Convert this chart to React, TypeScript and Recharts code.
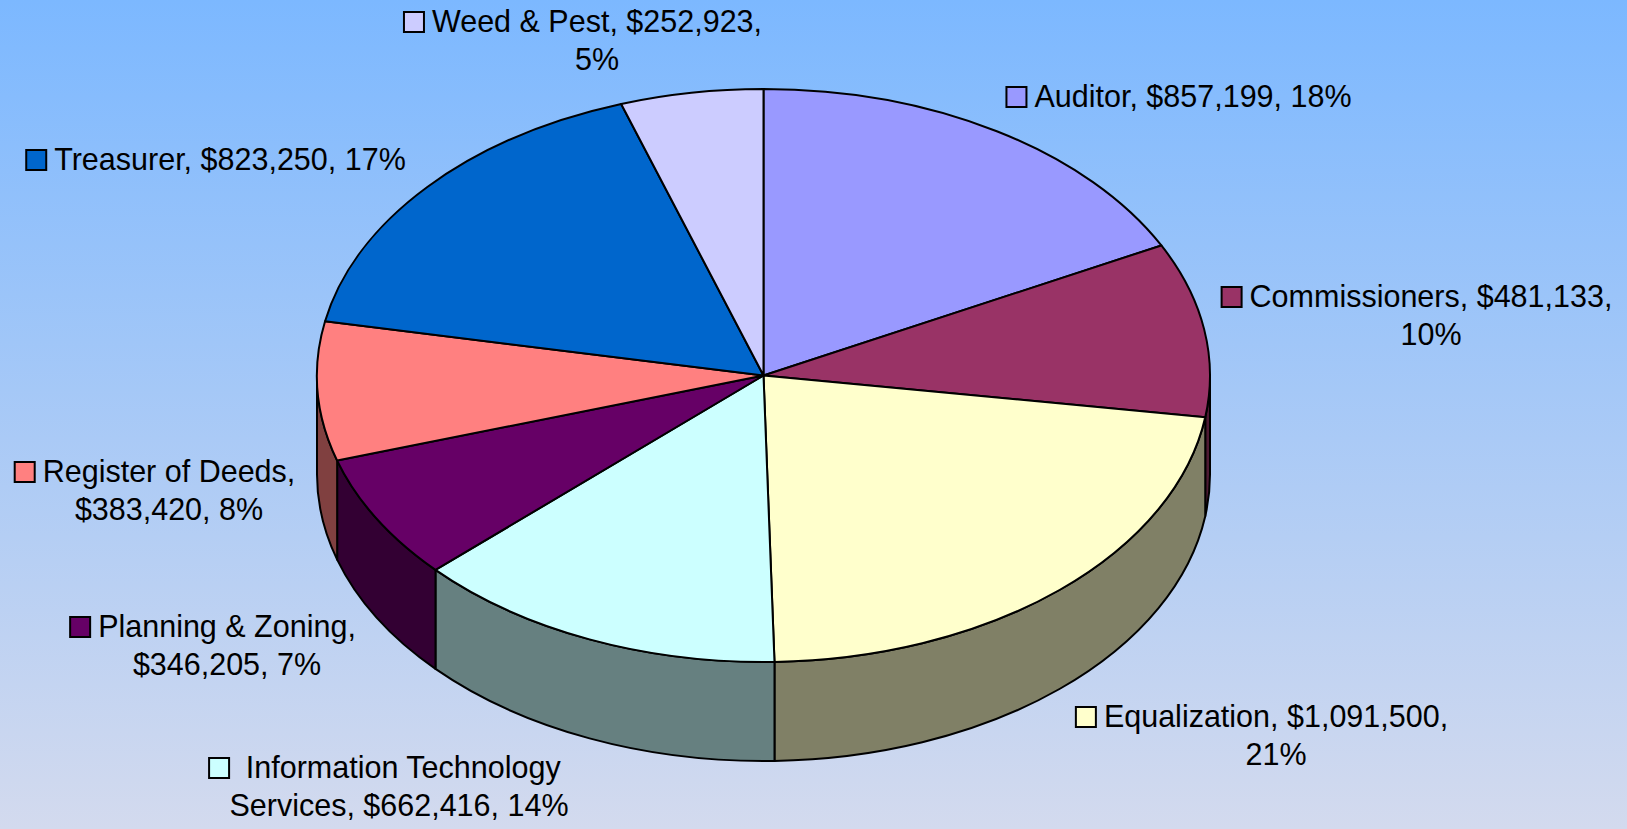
import React from 'react';
import { PieChart, Pie, Cell } from 'recharts';

const DEPARTMENTS = [
  'Auditor',
  'Commissioners',
  'Equalization',
  ' Information Technology Services',
  'Planning & Zoning',
  'Register of Deeds',
  'Treasurer',
  'Weed & Pest',
];
const BUDGETS = [857199, 481133, 1091500, 662416, 346205, 383420, 823250, 252923];
const PERCENTS = [18, 10, 21, 14, 7, 8, 17, 5];

const COLORS = ['#9999FF', '#993366', '#FFFFCC', '#CCFFFF', '#660066', '#FF8080', '#0066CC', '#CCCCFF'];

// where each label sits: text centre x, first baseline y, max chars per line
const LABEL_SPOTS = [
  { x: 1193, y: 107, wrap: 40 },
  { x: 1431, y: 307, wrap: 24 },
  { x: 1276, y: 727, wrap: 25 },
  { x: 399, y: 778, wrap: 23 },
  { x: 227, y: 637, wrap: 18 },
  { x: 169, y: 482, wrap: 18 },
  { x: 230, y: 170, wrap: 40 },
  { x: 597, y: 32, wrap: 22 },
];

const W = 1627;
const H = 829;
const CX = 763.5;
const CY = 375.5;
const RX = 446.5;
const TILT = 286.5 / 446.5;
const DEPTH = 99;
const FONT = '"Liberation Sans", Arial, sans-serif';
const FONT_SIZE = 30.5;
const LINE_H = 38;

const data = DEPARTMENTS.map((name, i) => ({ name, value: BUDGETS[i], pct: PERCENTS[i] }));

const shade = (hex: string) => {
  const n = parseInt(hex.slice(1), 16);
  const r = Math.round(((n >> 16) & 255) / 2);
  const g = Math.round(((n >> 8) & 255) / 2);
  const b = Math.round((n & 255) / 2);
  return `rgb(${r},${g},${b})`;
};

const RAD = Math.PI / 180;

// 3D slice: tilted top face plus the outer wall on the front half
const Slice3D = (props: any) => {
  const { cx, cy, outerRadius, startAngle, endAngle, fill } = props;
  const rx = outerRadius;
  const ry = outerRadius * TILT;
  const s = Math.max(startAngle, endAngle);
  const e = Math.min(startAngle, endAngle);
  const pt = (a: number, dy = 0) => `${cx + rx * Math.cos(a * RAD)},${cy - ry * Math.sin(a * RAD) + dy}`;
  const top = `M${cx},${cy} L${pt(s)} A${rx},${ry} 0 ${s - e > 180 ? 1 : 0} 1 ${pt(e)} Z`;
  const a1 = Math.min(s, 0);
  const a2 = Math.max(e, -180);
  const wall =
    a1 > a2
      ? `M${pt(a1)} A${rx},${ry} 0 0 1 ${pt(a2)} L${pt(a2, DEPTH)} A${rx},${ry} 0 0 0 ${pt(a1, DEPTH)} Z`
      : null;
  return (
    <g>
      {wall && <path d={wall} fill={shade(fill)} stroke="#000" strokeWidth={2} strokeLinejoin="round" />}
      <path d={top} fill={fill} stroke="#000" strokeWidth={2} strokeLinejoin="round" />
    </g>
  );
};

let ctx: CanvasRenderingContext2D | null = null;
const textWidth = (t: string) => {
  if (!ctx) ctx = document.createElement('canvas').getContext('2d');
  if (!ctx) return t.length * FONT_SIZE * 0.55;
  ctx.font = `${FONT_SIZE}px ${FONT}`;
  return ctx.measureText(t).width;
};

const wrapText = (text: string, max: number) => {
  const lead = text.match(/^\s*/)?.[0] ?? '';
  const words = text.trim().split(' ');
  const lines: string[] = [];
  let cur = lead;
  words.forEach((w) => {
    const next = cur.trim() === '' ? cur + w : cur + ' ' + w;
    if (next.length > max && cur.trim() !== '') {
      lines.push(cur);
      cur = w;
    } else {
      cur = next;
    }
  });
  lines.push(cur);
  return lines;
};

const SliceLabel = ({ index }: any) => {
  const d = data[index];
  const spot = LABEL_SPOTS[index];
  const text = `${d.name}, $${d.value.toLocaleString('en-US')}, ${d.pct}%`;
  const lines = wrapText(text, spot.wrap);
  const w1 = textWidth(lines[0]);
  const keyX = spot.x - w1 / 2 - 28;
  return (
    <g>
      <rect x={keyX} y={spot.y - 20} width={20} height={20} fill={COLORS[index]} stroke="#000" strokeWidth={2} />
      {lines.map((ln, i) => (
        <text
          key={i}
          x={spot.x}
          y={spot.y + i * LINE_H}
          textAnchor="middle"
          fontFamily={FONT}
          fontSize={FONT_SIZE}
          fill="#000"
          style={{ whiteSpace: 'pre' }}
        >
          {ln}
        </text>
      ))}
    </g>
  );
};

export default function App() {
  return (
    <div
      style={{
        position: 'absolute',
        left: 0,
        top: 0,
        width: W,
        height: H,
        background: 'linear-gradient(to bottom, #7CB8FF 0%, #D3DAEE 100%)',
      }}
    >
      <PieChart width={W} height={H} margin={{ top: 0, right: 0, bottom: 0, left: 0 }}>
        <Pie
          data={data}
          dataKey="value"
          nameKey="name"
          cx={CX}
          cy={CY}
          outerRadius={RX}
          startAngle={90}
          endAngle={-270}
          isAnimationActive={false}
          shape={Slice3D}
          activeShape={Slice3D}
          inactiveShape={Slice3D}
          label={SliceLabel}
          labelLine={false}
          stroke="#000"
        >
          {data.map((d, i) => (
            <Cell key={d.name} fill={COLORS[i]} />
          ))}
        </Pie>
      </PieChart>
    </div>
  );
}
